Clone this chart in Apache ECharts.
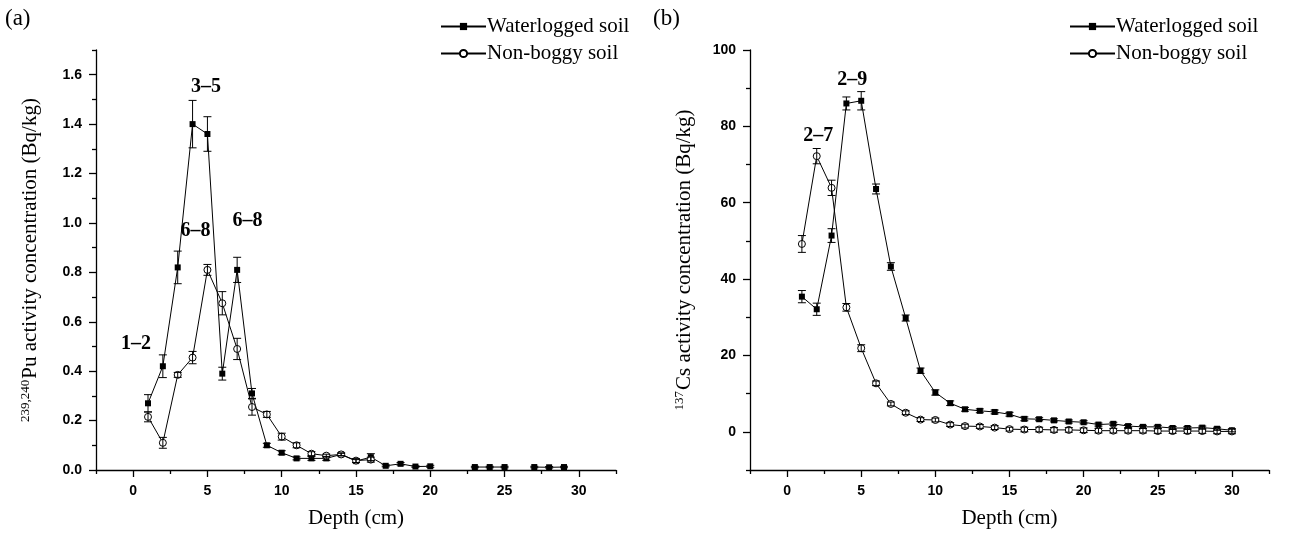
<!DOCTYPE html>
<html><head><meta charset="utf-8">
<script src="https://cdn.jsdelivr.net/npm/echarts@6/dist/echarts.min.js"></script>
<style>html,body{margin:0;padding:0;background:#fff}#c{width:1296px;height:536px}</style>
</head><body><div id="c"></div>
<script>
// ---------- DATA ----------
const seriesNames = ['Waterlogged soil', 'Non-boggy soil'];
// Panel (a): 239,240Pu
const depthPuW = [1,2,3,4,5,6,7,8,9,10,11,12,13,14,15,16,17,18,19,20,21,22,23,24,25,26,27,28,29];
const puW      = [0.27,0.42,0.82,1.40,1.36,0.39,0.81,0.31,0.10,0.07,0.047,0.047,0.047,0.063,0.036,0.052,0.017,0.025,0.014,0.015,null,null,0.012,0.012,0.012,null,0.012,0.011,0.012];
const puWErr   = [0.035,0.046,0.066,0.096,0.07,0.026,0.051,0.02,0.008,0.008,0.006,0.008,0.008,0.006,0.006,0.014,0.004,0.005,0.003,0.004,null,null,0.003,0.003,0.003,null,0.003,0.003,0.003];
const depthPuN = [1,2,3,4,5,6,7,8,9,10,11,12,13,14,15,16];
const puN      = [0.215,0.11,0.385,0.455,0.81,0.675,0.49,0.255,0.225,0.135,0.10,0.066,0.058,0.063,0.038,0.042];
const puNErr   = [0.02,0.022,0.01,0.025,0.022,0.047,0.043,0.033,0.012,0.014,0.01,0.008,0.006,0.005,0.008,0.01];
// Panel (b): 137Cs
const depthCs = [1,2,3,4,5,6,7,8,9,10,11,12,13,14,15,16,17,18,19,20,21,22,23,24,25,26,27,28,29,30];
const csW     = [35.4,32.1,51.4,86.0,86.7,63.6,43.3,29.8,16.0,10.3,7.5,5.9,5.5,5.2,4.6,3.4,3.3,3.0,2.7,2.5,1.9,2.1,1.5,1.3,1.3,1.0,1.0,1.1,0.8,0.4];
const csWErr  = [1.6,1.6,1.8,1.7,2.4,1.3,1.0,0.8,0.7,0.7,0.6,0.5,0.5,0.5,0.5,0.5,0.4,0.4,0.4,0.4,0.4,0.4,0.4,0.4,0.4,0.4,0.4,0.4,0.4,0.4];
const csN     = [49.2,72.2,63.9,32.6,21.9,12.7,7.3,5.0,3.2,3.1,1.9,1.5,1.4,1.1,0.7,0.6,0.6,0.5,0.5,0.4,0.3,0.3,0.3,0.3,0.2,0.2,0.2,0.2,0.1,0.1];
const csNErr  = [2.2,2.0,2.0,1.0,0.9,0.6,0.5,0.5,0.5,0.5,0.5,0.5,0.5,0.5,0.5,0.6,0.6,0.6,0.6,0.6,0.6,0.6,0.6,0.6,0.6,0.6,0.6,0.6,0.6,0.6];
// Annotations (data coordinates)
const annoAText = ['3–5','6–8','6–8','1–2'];
const annoAX    = [4.9,4.2,7.7,0.2];
const annoAY    = [1.55,0.97,1.01,0.51];
const annoBText = ['2–9','2–7'];
const annoBX    = [4.4,2.1];
const annoBY    = [92.3,77.4];
// Ticks
const xMajorTicks = [0,5,10,15,20,25,30];
const xMinorTicks = [-2.5,2.5,7.5,12.5,17.5,22.5,27.5,32.5];
const yAMajorTicks = [0,0.2,0.4,0.6,0.8,1.0,1.2,1.4,1.6];
const yAMinorTicks = [0.1,0.3,0.5,0.7,0.9,1.1,1.3,1.5,1.7];
const yBMajorTicks = [0,20,40,60,80,100];
const yBMinorTicks = [-10,10,30,50,70,90];

// ---------- HELPERS ----------
const pairs = (xs, ys) => xs.map((x, i) => [x, ys[i]]);
const errTriples = (xs, ys, es) => xs.map((x, i) => ys[i] == null ? null : [x, ys[i] - es[i], ys[i] + es[i]]).filter(d => d);
const annoData = (xs, ys, ts) => xs.map((x, i) => [x, ys[i], ts[i]]);

const SERIF = '"Liberation Serif", "DejaVu Serif", serif';
const SANS = '"Liberation Sans", Arial, sans-serif';
const tickLabel = { color: '#000', fontFamily: SANS, fontWeight: 'bold', fontSize: 14 };
const axisLine = { show: true, onZero: false, lineStyle: { color: '#000', width: 1.3 } };

function errorBarSeries(xi, yi, data) {
  return {
    type: 'custom', xAxisIndex: xi, yAxisIndex: yi, z: 4, silent: true,
    encode: { x: 0, y: [1, 2] },
    data: data,
    renderItem: function (params, api) {
      const x = api.value(0);
      const top = api.coord([x, api.value(2)]);
      const bot = api.coord([x, api.value(1)]);
      const hw = 4;
      const st = { stroke: '#000', lineWidth: 1 };
      return { type: 'group', children: [
        { type: 'line', shape: { x1: top[0], y1: top[1], x2: bot[0], y2: bot[1] }, style: st },
        { type: 'line', shape: { x1: top[0] - hw, y1: top[1], x2: top[0] + hw, y2: top[1] }, style: st },
        { type: 'line', shape: { x1: bot[0] - hw, y1: bot[1], x2: bot[0] + hw, y2: bot[1] }, style: st }
      ]};
    }
  };
}
function lineSeries(name, xi, yi, data, filled) {
  return {
    name: name, type: 'line', xAxisIndex: xi, yAxisIndex: yi, data: data,
    connectNulls: false, z: 3,
    symbol: filled ? 'rect' : 'circle', symbolSize: filled ? 6 : 7,
    lineStyle: { color: '#000', width: 1 },
    itemStyle: filled ? { color: '#000', borderColor: '#000', borderWidth: 0 }
                      : { color: '#fff', borderColor: '#000', borderWidth: 1 },
    emphasis: { disabled: true }, animation: false
  };
}
function annoSeries(xi, yi, data) {
  return {
    type: 'scatter', xAxisIndex: xi, yAxisIndex: yi, data: data, symbolSize: 0, z: 5, silent: true,
    itemStyle: { opacity: 1, color: '#000' },
    emphasis: { disabled: true },
    label: { show: true, position: 'inside', formatter: p => p.value[2], opacity: 1,
             fontFamily: SERIF, fontWeight: 'bold', fontSize: 20, color: '#000' }
  };
}
function xAxes(gi) {
  return [
    { type: 'value', gridIndex: gi, min: -2.5, max: 32.5, position: 'bottom',
      axisLine: axisLine, splitLine: { show: false },
      axisTick: { show: true, customValues: xMajorTicks, length: 7, lineStyle: { color: '#000', width: 1.3 } },
      axisLabel: Object.assign({ customValues: xMajorTicks, margin: 14 }, tickLabel),
      name: 'Depth (cm)', nameLocation: 'middle', nameGap: 38,
      nameTextStyle: { fontFamily: SERIF, fontSize: 21, color: '#000' } },
    { type: 'value', gridIndex: gi, min: -2.5, max: 32.5, position: 'bottom',
      axisLine: { show: false, onZero: false }, splitLine: { show: false }, axisLabel: { show: false },
      axisTick: { show: true, customValues: xMinorTicks, length: 4, lineStyle: { color: '#000', width: 1.3 } } }
  ];
}
function yAxes(gi, min, max, major, minor, name, nameGap) {
  return [
    { type: 'value', gridIndex: gi, min: min, max: max, position: 'left',
      axisLine: axisLine, splitLine: { show: false },
      axisTick: { show: true, customValues: major, length: 7, lineStyle: { color: '#000', width: 1.3 } },
      axisLabel: Object.assign({ customValues: major, margin: 14,
        formatter: v => (max < 10 ? v.toFixed(1) : String(v)) }, tickLabel),
      name: name, nameLocation: 'middle', nameGap: nameGap, nameRotate: 90,
      nameTextStyle: { fontFamily: SERIF, fontSize: 21, color: '#000',
        rich: { sup: { fontFamily: SERIF, fontSize: 13, color: '#000', verticalAlign: 'top', padding: [0, 1, 10, 0] },
                b: { fontFamily: SERIF, fontSize: 21, color: '#000' } } } },
    { type: 'value', gridIndex: gi, min: min, max: max, position: 'left',
      axisLine: { show: false, onZero: false }, splitLine: { show: false }, axisLabel: { show: false },
      axisTick: { show: true, customValues: minor, length: 4, lineStyle: { color: '#000', width: 1.3 } } }
  ];
}

const chart = echarts.init(document.getElementById('c'), null, { renderer: 'canvas' });
const legendCommon = {
  orient: 'vertical', itemWidth: 45, itemHeight: 9, itemGap: 6,
  textStyle: { fontFamily: SERIF, fontSize: 21, color: '#000', padding: [0, 0, 0, -4] },
  data: seriesNames, selectedMode: false
};
chart.setOption({
  animation: false,
  backgroundColor: '#fff',
  title: [
    { text: '(a)', left: 0, top: 2, textStyle: { fontFamily: SERIF, fontSize: 23, fontWeight: 'normal', color: '#000' } },
    { text: '(b)', left: 648, top: 2, textStyle: { fontFamily: SERIF, fontSize: 23, fontWeight: 'normal', color: '#000' } }
  ],
  legend: [
    Object.assign({ left: 435, top: 11 }, legendCommon),
    Object.assign({ left: 1064, top: 11 }, legendCommon)
  ],
  grid: [
    { left: 96, right: 680, top: 50, bottom: 66 },
    { left: 750, right: 27, top: 50, bottom: 66 }
  ],
  xAxis: [...xAxes(0), ...xAxes(1)],
  yAxis: [
    ...yAxes(0, 0, 1.7, yAMajorTicks, yAMinorTicks, '{sup|239,240}{b|Pu activity concentration (Bq/kg)}', 54),
    ...yAxes(1, -10, 100, yBMajorTicks, yBMinorTicks, '{sup|137}{b|Cs activity concentration (Bq/kg)}', 54)
  ],
  series: [
    lineSeries(seriesNames[0], 0, 0, pairs(depthPuW, puW), true),
    lineSeries(seriesNames[1], 0, 0, pairs(depthPuN, puN), false),
    errorBarSeries(0, 0, errTriples(depthPuW, puW, puWErr)),
    errorBarSeries(0, 0, errTriples(depthPuN, puN, puNErr)),
    annoSeries(0, 0, annoData(annoAX, annoAY, annoAText)),
    lineSeries(seriesNames[0], 2, 2, pairs(depthCs, csW), true),
    lineSeries(seriesNames[1], 2, 2, pairs(depthCs, csN), false),
    errorBarSeries(2, 2, errTriples(depthCs, csW, csWErr)),
    errorBarSeries(2, 2, errTriples(depthCs, csN, csNErr)),
    annoSeries(2, 2, annoData(annoBX, annoBY, annoBText))
  ]
});
</script></body></html>
